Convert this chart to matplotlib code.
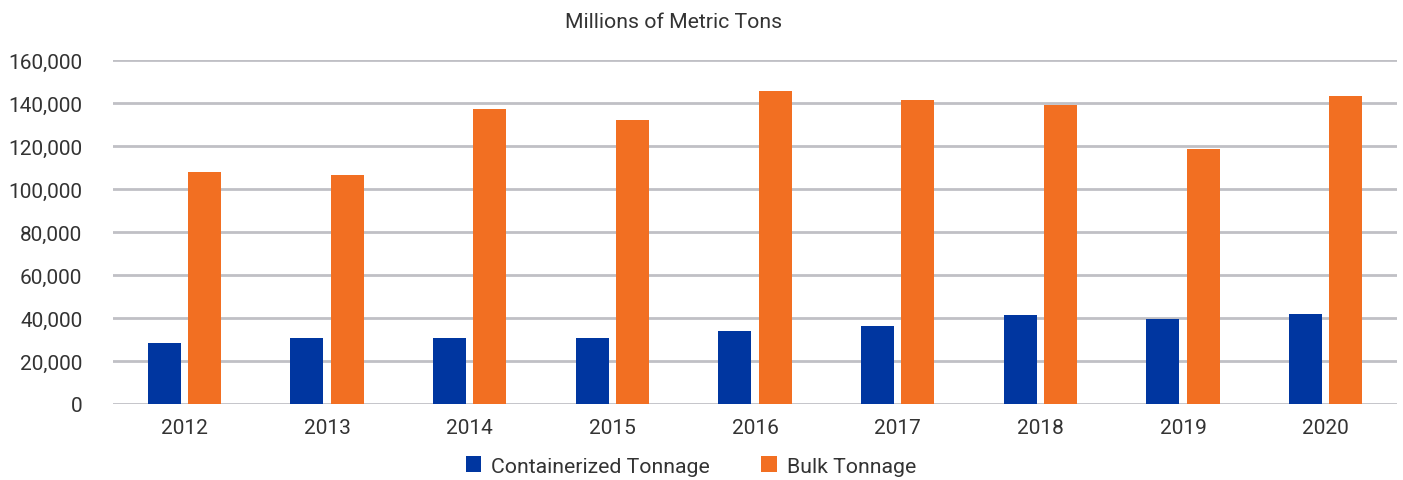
import numpy as np
import matplotlib
matplotlib.use("Agg")
import matplotlib.pyplot as plt
from matplotlib.ticker import FuncFormatter

years = ["2012", "2013", "2014", "2015", "2016", "2017", "2018", "2019", "2020"]
containerized = [28400, 30700, 30700, 30700, 34000, 36300, 41400, 39500, 41900]
bulk = [107900, 106500, 137200, 132000, 145600, 141400, 139000, 118600, 143300]

BLUE = "#0036A0"
ORANGE = "#F26F22"
GRID = "#C0C0C5"
TEXT = "#333333"

plt.rcParams["font.family"] = ["Roboto", "DejaVu Sans"]

fig = plt.figure(figsize=(14.03, 4.81), dpi=100)
ax = fig.add_axes([113/1403, 76/481, (1397-113)/1403, (405-61)/481])

x = np.arange(len(years))
w = 0.232
gap = 0.05
ax.bar(x - (w + gap)/2, containerized, width=w, color=BLUE, label="Containerized Tonnage", zorder=3)
ax.bar(x + (w + gap)/2, bulk, width=w, color=ORANGE, label="Bulk Tonnage", zorder=3)

ax.set_xlim(-0.5, len(years) - 0.5)
ax.set_ylim(0, 160000)
ax.set_yticks(np.arange(0, 160001, 20000))
ax.yaxis.set_major_formatter(FuncFormatter(lambda v, p: f"{int(v):,}"))
ax.set_xticks(x)
ax.set_xticklabels(years)

ax.grid(axis="y", color=GRID, linewidth=2, zorder=0)
for s in ax.spines.values():
    s.set_visible(False)
ax.tick_params(axis="both", length=0, labelsize=15, colors=TEXT)
ax.tick_params(axis="y", pad=22)
ax.tick_params(axis="x", pad=10)

fig.text(0.4804, 1 - 23/481, "Millions of Metric Tons", ha="center", va="center",
         fontsize=15.3, color=TEXT)

fig.legend(loc="center", bbox_to_anchor=(0.4925, 1 - 467/481), ncol=2, frameon=False,
           fontsize=15.3, handlelength=0.75, handleheight=0.75, columnspacing=2.4,
           handletextpad=0.47, labelcolor=TEXT)

fig.savefig("out.png", dpi=100)
